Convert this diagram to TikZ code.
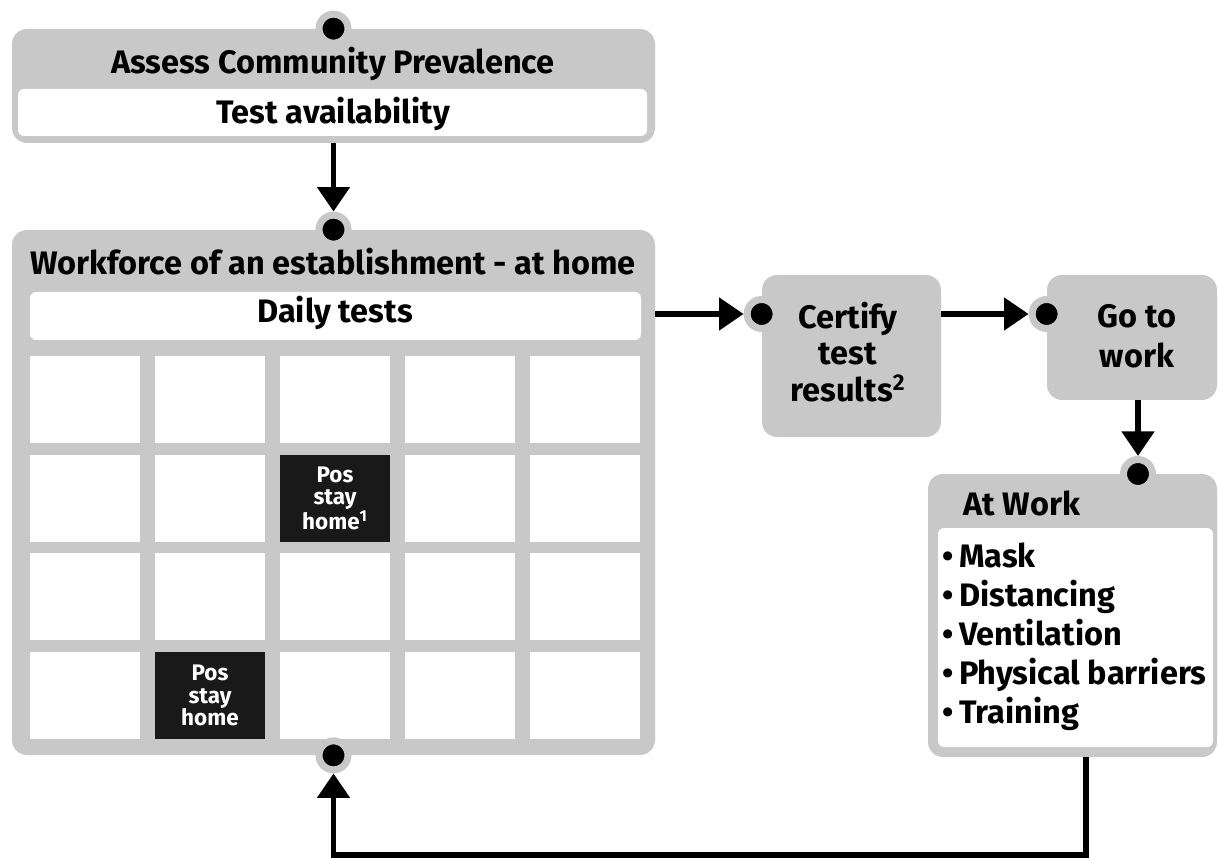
\documentclass[tikz,border=0pt]{standalone}
\usepackage{fontspec}
\setmainfont{Fira Sans}
\usetikzlibrary{arrows.meta,fit,positioning}
\definecolor{boxgray}{RGB}{200,200,200}
\tikzset{
  graybox/.style={fill=boxgray, rounded corners=0.3cm, inner sep=0pt},
  whitestrip/.style={fill=white, rounded corners=0.12cm, inner sep=0pt},
  cell/.style={fill=white, minimum width=2.2cm, minimum height=1.74cm, inner sep=0pt},
  poscell/.style={cell, fill=black!90, text=white, align=center, font=\bfseries\fontsize{12.8}{12.8}\selectfont},
  boxtext/.style={font=\bfseries\fontsize{18.5}{21}\selectfont, inner sep=0pt},
  port/.style={circle, fill=black, draw=boxgray, line width=4pt, minimum size=16.5pt, inner sep=0pt},
  flow/.style={line width=3.4pt, -{Triangle[length=14pt,width=18pt]}},
}
\begin{document}
\begin{tikzpicture}[x=0.02cm, y=-0.02cm]
    \useasboundingbox (0,0) rectangle (1218,858);
    \node[graybox, fit={(12,29) (655,143)}] (assess) {};
    \node[boxtext, anchor=base] (assesstitle) at (333,74) {Assess Community Prevalence};
    \node[whitestrip, fit={(18,89) (647,136)}] (availstrip) {};
    \node[boxtext, anchor=base] (availtext) at (333,124) {Test availability};
    \node[graybox, fit={(12,230) (655,755)}] (workforce) {};
    \node[boxtext, anchor=base] (workforcetitle) at (333,275) {Workforce of an establishment - at home};
    \node[whitestrip, fit={(30,292) (641,340)}] (dailystrip) {};
    \node[boxtext, anchor=base] (dailytext) at (335,323) {Daily tests};
    \foreach \r in {1,...,4}
      \foreach \c in {1,...,5}
        \node[cell] (c\r\c) at ({85+125*(\c-1)}, {399.5+98.67*(\r-1)}) {};
    \node[poscell] (pos1) at (c23) {Pos\\stay\\home\textsuperscript{1}};
    \node[poscell] (pos2) at (c42) {Pos\\stay\\home};
    \node[graybox, fit={(762,275) (941,437)}] (certify) {};
    \node[boxtext, align=center] (certifytext) at (848,352) {Certify\\test\\results\textsuperscript{2}};
    \node[graybox, fit={(1047,275) (1217,400)}] (gowork) {};
    \node[boxtext, align=center, font=\bfseries\fontsize{18.5}{23}\selectfont] (goworktext) at (1137,336) {Go to\\work};
    \node[graybox, fit={(928,474) (1217,757)}] (atwork) {};
    \node[boxtext, anchor=base west] (atworktitle) at (963,515) {At Work};
    \node[whitestrip, fit={(938,528) (1213,747)}] (measures) {};
    \foreach \m [count=\i] in {Mask,Distancing,Ventilation,Physical barriers,Training}
      \node[boxtext, anchor=base west] (item\i) at (942,{528+39*\i}) {\textbullet\,\m};
    \coordinate (row) at (0,314);
    \node[port] (d1) at (assess.north) {};
    \node[port] (d2) at (workforce.north) {};
    \node[port] (d3) at (certify.west |- row) {};
    \node[port] (d4) at (gowork.west |- row) {};
    \node[port] (d5) at (1138,474) {};
    \node[port] (d6) at (workforce.south) {};
    \draw[flow] (assess) -- (d2);
    \draw[flow] (workforce.east |- d3) -- (d3);
    \draw[flow] (certify.east |- d4) -- (d4);
    \draw[flow] (gowork.south -| d5) -- (d5);
    \coordinate (loop) at (1086,855);
    \draw[flow] (atwork.south -| loop) -- (loop) -| (d6);
\end{tikzpicture}
\end{document}
